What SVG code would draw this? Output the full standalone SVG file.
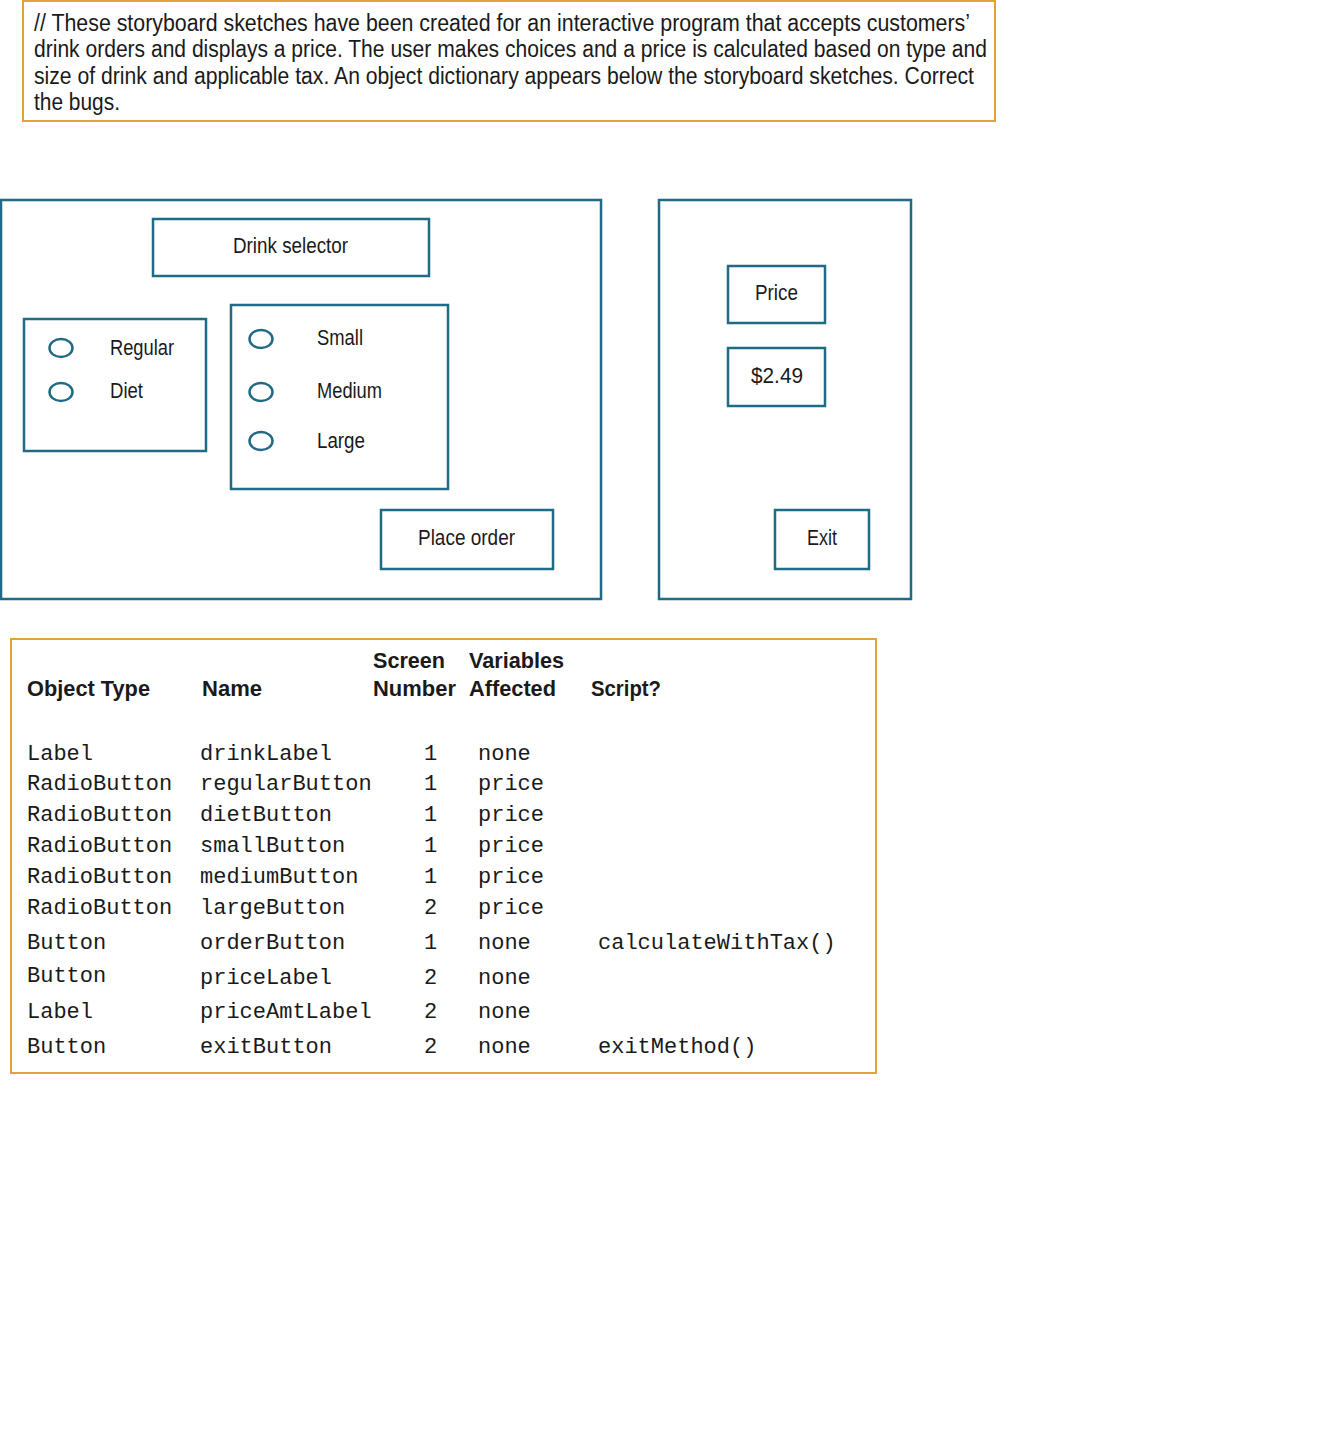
<svg xmlns="http://www.w3.org/2000/svg" width="1327" height="1432" viewBox="0 0 1327 1432">
<style>
.bg{fill:#ffffff}
.obox{fill:none;stroke:#e0a239;stroke-width:2}
.tbox{fill:none;stroke:#1f6a84;stroke-width:2.5}
.radio{fill:none;stroke:#1f6a84;stroke-width:2.5}
.sans{font-family:"Liberation Sans Narrow","Liberation Sans",Arial,sans-serif;fill:#1a1a1a}
.intro{font-size:23px}
.lbl{font-size:22px}
.hdr{font-size:22px;font-weight:bold}
.mono{font-family:"Liberation Mono","DejaVu Sans Mono",monospace;font-size:22px;fill:#1a1a1a}
</style>
<rect class="bg" x="0" y="0" width="1327" height="1432"/>

<g id="intro-note">
<rect class="obox" x="23" y="1" width="972" height="120"/>
<text class="sans intro" x="34" y="31" textLength="936" lengthAdjust="spacingAndGlyphs">// These storyboard sketches have been created for an interactive program that accepts customers’</text>
<text class="sans intro" x="34" y="57" textLength="953" lengthAdjust="spacingAndGlyphs">drink orders and displays a price. The user makes choices and a price is calculated based on type and</text>
<text class="sans intro" x="34" y="84" textLength="940" lengthAdjust="spacingAndGlyphs">size of drink and applicable tax. An object dictionary appears below the storyboard sketches. Correct</text>
<text class="sans intro" x="34" y="110" textLength="86" lengthAdjust="spacingAndGlyphs">the bugs.</text>
</g>

<g id="screen1">
<rect class="tbox" x="1" y="200" width="600" height="399"/>
<g id="drink-selector">
<rect class="tbox" x="153" y="219" width="276" height="57"/>
<text class="sans lbl" x="233" y="253" textLength="115" lengthAdjust="spacingAndGlyphs">Drink selector</text>
</g>
<g id="type-group">
<rect class="tbox" x="24" y="319" width="182" height="132"/>
<ellipse class="radio" cx="61" cy="348" rx="11.5" ry="9"/>
<text class="sans lbl" x="110" y="355" textLength="64" lengthAdjust="spacingAndGlyphs">Regular</text>
<ellipse class="radio" cx="61" cy="392" rx="11.5" ry="9"/>
<text class="sans lbl" x="110" y="398" textLength="33" lengthAdjust="spacingAndGlyphs">Diet</text>
</g>
<g id="size-group">
<rect class="tbox" x="231" y="305" width="217" height="184"/>
<ellipse class="radio" cx="261" cy="339" rx="11.5" ry="9"/>
<text class="sans lbl" x="317" y="345" textLength="46" lengthAdjust="spacingAndGlyphs">Small</text>
<ellipse class="radio" cx="261" cy="392" rx="11.5" ry="9"/>
<text class="sans lbl" x="317" y="398" textLength="65" lengthAdjust="spacingAndGlyphs">Medium</text>
<ellipse class="radio" cx="261" cy="441" rx="11.5" ry="9"/>
<text class="sans lbl" x="317" y="448" textLength="48" lengthAdjust="spacingAndGlyphs">Large</text>
</g>
<g id="place-order">
<rect class="tbox" x="381" y="510" width="172" height="59"/>
<text class="sans lbl" x="418" y="545" textLength="97" lengthAdjust="spacingAndGlyphs">Place order</text>
</g>
</g>

<g id="screen2">
<rect class="tbox" x="659" y="200" width="252" height="399"/>
<g id="price-label">
<rect class="tbox" x="728" y="266" width="97" height="57"/>
<text class="sans lbl" x="755" y="300" textLength="43" lengthAdjust="spacingAndGlyphs">Price</text>
</g>
<g id="price-amount">
<rect class="tbox" x="728" y="348" width="97" height="58"/>
<text class="sans lbl" x="751" y="383" textLength="52" lengthAdjust="spacingAndGlyphs">$2.49</text>
</g>
<g id="exit-button">
<rect class="tbox" x="775" y="510" width="94" height="59"/>
<text class="sans lbl" x="807" y="545" textLength="30" lengthAdjust="spacingAndGlyphs">Exit</text>
</g>
</g>

<g id="connectors"></g>

<g id="object-dictionary">
<rect class="obox" x="11" y="639" width="865" height="434"/>
<text class="sans hdr" x="27" y="696" textLength="123" lengthAdjust="spacingAndGlyphs">Object Type</text>
<text class="sans hdr" x="202" y="696" textLength="60" lengthAdjust="spacingAndGlyphs">Name</text>
<text class="sans hdr" x="373" y="668" textLength="72" lengthAdjust="spacingAndGlyphs">Screen</text>
<text class="sans hdr" x="373" y="696" textLength="83" lengthAdjust="spacingAndGlyphs">Number</text>
<text class="sans hdr" x="469" y="668" textLength="95" lengthAdjust="spacingAndGlyphs">Variables</text>
<text class="sans hdr" x="469" y="696" textLength="87" lengthAdjust="spacingAndGlyphs">Affected</text>
<text class="sans hdr" x="591" y="696" textLength="70" lengthAdjust="spacingAndGlyphs">Script?</text>

<text class="mono" x="27" y="760">Label</text>
<text class="mono" x="200" y="760">drinkLabel</text>
<text class="mono" x="424" y="760">1</text>
<text class="mono" x="478" y="760">none</text>

<text class="mono" x="27" y="790">RadioButton</text>
<text class="mono" x="200" y="790">regularButton</text>
<text class="mono" x="424" y="790">1</text>
<text class="mono" x="478" y="790">price</text>

<text class="mono" x="27" y="821">RadioButton</text>
<text class="mono" x="200" y="821">dietButton</text>
<text class="mono" x="424" y="821">1</text>
<text class="mono" x="478" y="821">price</text>

<text class="mono" x="27" y="852">RadioButton</text>
<text class="mono" x="200" y="852">smallButton</text>
<text class="mono" x="424" y="852">1</text>
<text class="mono" x="478" y="852">price</text>

<text class="mono" x="27" y="883">RadioButton</text>
<text class="mono" x="200" y="883">mediumButton</text>
<text class="mono" x="424" y="883">1</text>
<text class="mono" x="478" y="883">price</text>

<text class="mono" x="27" y="914">RadioButton</text>
<text class="mono" x="200" y="914">largeButton</text>
<text class="mono" x="424" y="914">2</text>
<text class="mono" x="478" y="914">price</text>

<text class="mono" x="27" y="949">Button</text>
<text class="mono" x="200" y="949">orderButton</text>
<text class="mono" x="424" y="949">1</text>
<text class="mono" x="478" y="949">none</text>
<text class="mono" x="598" y="949">calculateWithTax()</text>

<text class="mono" x="27" y="982">Button</text>
<text class="mono" x="200" y="984">priceLabel</text>
<text class="mono" x="424" y="984">2</text>
<text class="mono" x="478" y="984">none</text>

<text class="mono" x="27" y="1018">Label</text>
<text class="mono" x="200" y="1018">priceAmtLabel</text>
<text class="mono" x="424" y="1018">2</text>
<text class="mono" x="478" y="1018">none</text>

<text class="mono" x="27" y="1053">Button</text>
<text class="mono" x="200" y="1053">exitButton</text>
<text class="mono" x="424" y="1053">2</text>
<text class="mono" x="478" y="1053">none</text>
<text class="mono" x="598" y="1053">exitMethod()</text>
</g>
</svg>
